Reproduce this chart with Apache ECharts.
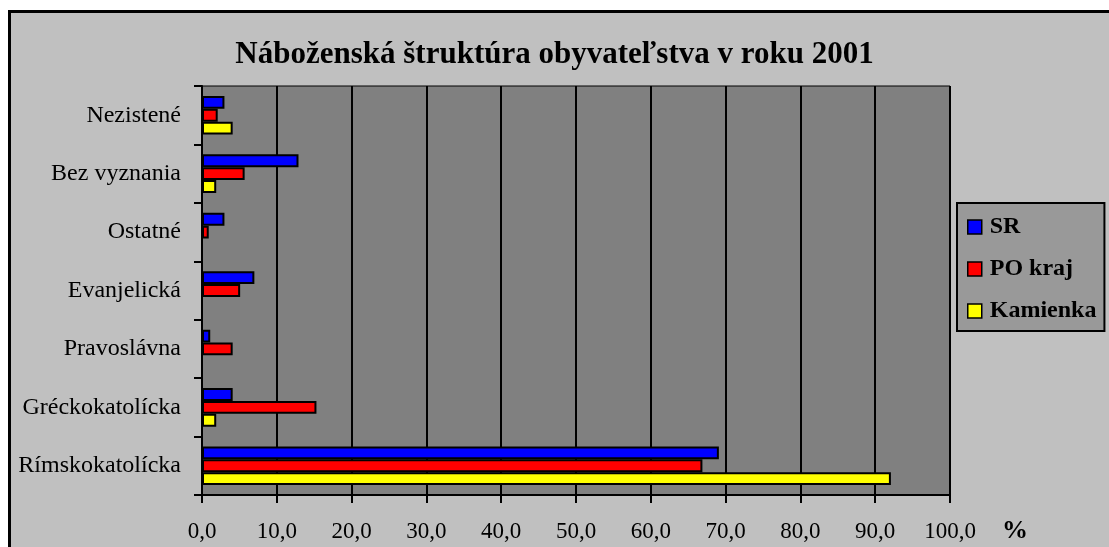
<!DOCTYPE html>
<html>
<head>
<meta charset="utf-8">
<script src="https://cdn.jsdelivr.net/npm/echarts@6/dist/echarts.min.js"></script>
<style>
  html, body { margin: 0; padding: 0; background: #ffffff; }
  .frame {
    position: absolute; left: 8px; top: 10px; width: 1101px; height: 537px;
    background: #C0C0C0; border-left: 3px solid #000; border-top: 3px solid #000;
    box-sizing: border-box;
  }
  #chart { position: absolute; left: 0; top: 0; width: 1109px; height: 547px; }
</style>
</head>
<body>
<div class="frame"></div>
<div id="chart"></div>
<script>
  // kategórie zhora nadol (os je otočená)
  const categories = ['Nezistené', 'Bez vyznania', 'Ostatné', 'Evanjelická', 'Pravoslávna', 'Gréckokatolícka', 'Rímskokatolícka']
  const seriesNames = ['SR', 'PO kraj', 'Kamienka']
  const srValues = [3.0, 12.9, 3.0, 7.0, 1.1, 4.1, 69.1]
  const poValues = [2.1, 5.7, 0.9, 5.1, 4.1, 15.3, 66.9]
  const kamValues = [4.1, 1.9, 0, 0, 0, 1.9, 92.1]
  const xTicks = [0, 10, 20, 30, 40, 50, 60, 70, 80, 90, 100]
  const colors = ['#0000FF', '#FF0000', '#FFFF00']

  const font = "'Liberation Serif', 'Times New Roman', serif"
  const myChart = echarts.init(document.getElementById('chart'))

  const values = [srValues, poValues, kamValues]
  const option = {
    backgroundColor: 'transparent',
    animation: false,
    title: {
      text: 'Náboženská štruktúra obyvateľstva v roku 2001',
      left: 'center',
      top: 34,
      textStyle: { fontFamily: font, fontSize: 31, fontWeight: 'bold', color: '#000' }
    },
    grid: {
      left: 202, right: 159, top: 86, bottom: 52,
      show: true, backgroundColor: '#808080', borderColor: '#000', borderWidth: 1
    },
    legend: {
      data: seriesNames,
      orient: 'vertical',
      left: 957, top: 203,
      itemWidth: 14, itemHeight: 14, itemGap: 18,
      padding: [12, 8, 8, 10],
      backgroundColor: '#999999',
      borderColor: '#000', borderWidth: 2,
      icon: 'rect',
      itemStyle: { borderColor: '#000', borderWidth: 1.5 },
      textStyle: { fontFamily: font, fontSize: 24, fontWeight: 'bold', color: '#000', padding: [0, 0, 0, 3] }
    },
    xAxis: {
      type: 'value',
      min: xTicks[0], max: xTicks[xTicks.length - 1], interval: 10,
      axisLine: { show: true, lineStyle: { color: '#000', width: 2 } },
      axisTick: { show: true, length: 8, lineStyle: { color: '#000', width: 2 } },
      splitLine: { show: true, lineStyle: { color: '#000', width: 2 } },
      axisLabel: {
        margin: 25,
        fontFamily: font, fontSize: 23, color: '#000',
        formatter: v => v.toFixed(1).replace('.', ',')
      }
    },
    yAxis: {
      type: 'category',
      inverse: true,
      data: categories,
      axisLine: { show: true, lineStyle: { color: '#000', width: 2 } },
      axisTick: { show: true, length: 8, lineStyle: { color: '#000', width: 2 } },
      axisLabel: { margin: 21, fontFamily: font, fontSize: 24, color: '#000' }
    },
    graphic: [{
      type: 'text', left: 1002, top: 518,
      style: { text: '%', fontFamily: font, fontSize: 26, fontWeight: 'bold', fill: '#000' }
    }],
    series: seriesNames.map((name, i) => ({
      name: name,
      type: 'bar',
      data: values[i],
      barGap: '0%',
      barCategoryGap: '34%',
      itemStyle: { color: colors[i], borderColor: '#000', borderWidth: 2 }
    }))
  }
  myChart.setOption(option)
</script>
</body>
</html>
